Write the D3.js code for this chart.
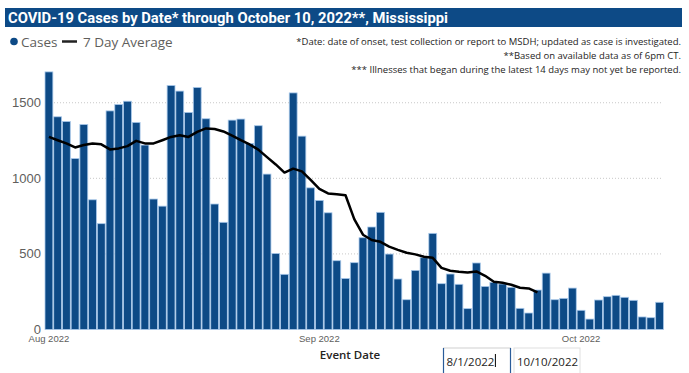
<!DOCTYPE html>
<html>
<head>
<meta charset="utf-8">
<script src="https://cdn.jsdelivr.net/npm/d3@7"></script>
<style>
  body { margin: 0; background: #fff; }
  svg { display: block; font-family: 'Open Sans', sans-serif; }
</style>
</head>
<body>
<script>
const WIDTH = 689;
const HEIGHT = 373;
const BAR_COLOR = '#0d4a86';
const BAR_EDGE = '#a8c8ea';

// Daily cases, Aug 1 .. Oct 10 2022.
const START_DATE = new Date(2022, 7, 1);
const cases = [
    1704, 1407, 1376, 1131, 1356, 858, 700,
    1446, 1488, 1510, 1370, 1220, 863, 816,
    1614, 1577, 1436, 1601, 1394, 830, 709,
    1385, 1392, 1231, 1348, 1028, 503, 365,
    1565, 1279, 937, 854, 772, 455, 338,
    442, 607, 678, 775, 499, 334, 197,
    391, 475, 636, 303, 367, 299, 138,
    440, 285, 312, 301, 279, 140, 109,
    261, 373, 197, 206, 274, 127, 69,
    195, 217, 226, 213, 193, 83, 78,
    180
];
// 7 day average, stops 14 days before the end.
const avg7 = [
    1274, 1252, 1231, 1204, 1220, 1231, 1225,
    1191, 1198, 1213, 1248, 1231, 1231, 1252,
    1274, 1285, 1274, 1307, 1330, 1326, 1310,
    1282, 1252, 1224, 1190, 1140, 1092, 1038,
    1064, 1046, 990, 930, 900, 894, 888,
    730, 627, 592, 580, 548, 527, 508,
    497, 481, 474, 408, 389, 382, 377,
    384, 355, 316, 309, 296, 276, 272,
    246
];
const yTicks = [0, 500, 1000, 1500];
const xTickDates = [new Date(2022, 7, 1), new Date(2022, 8, 1), new Date(2022, 9, 1)];
const notes = [
    '*Date: date of onset, test collection or report to MSDH; updated as case is investigated.',
    '**Based on available data as of 6pm CT.',
    '*** Illnesses that began during the latest 14 days may not yet be reported.'
];

const days = cases.map((c, i) => d3.timeDay.offset(START_DATE, i));

var svg = d3.select('body')
    .append('svg')
    .attr('width', WIDTH)
    .attr('height', HEIGHT);

// Title banner.
svg.append('rect')
    .attr('x', 5).attr('y', 8)
    .attr('width', 677).attr('height', 19)
    .attr('fill', BAR_COLOR);
svg.append('text')
    .attr('x', 8).attr('y', 23)
    .attr('fill', '#fff')
    .attr('textLength', 440)
    .attr('lengthAdjust', 'spacingAndGlyphs')
    .style('font-family', 'Roboto, sans-serif')
    .style('font-weight', 700)
    .style('font-size', '15.5px')
    .text('COVID-19 Cases by Date* through October 10, 2022**, Mississippi');

// Legend.
svg.append('circle').attr('cx', 14).attr('cy', 41.5).attr('r', 3.8).attr('fill', BAR_COLOR);
svg.append('text').attr('x', 21).attr('y', 46.5)
    .attr('fill', '#605e5c').style('font-size', '13.5px').text('Cases');
svg.append('line').attr('x1', 62).attr('x2', 77).attr('y1', 41.5).attr('y2', 41.5)
    .attr('stroke', '#222').attr('stroke-width', 2.5);
svg.append('text').attr('x', 83).attr('y', 46.5)
    .attr('fill', '#605e5c').style('font-size', '13.5px').text('7 Day Average');

// Notes, right aligned.
svg.selectAll('.note')
    .data(notes)
    .enter()
    .append('text')
    .attr('class', 'note')
    .attr('x', 681)
    .attr('y', (d, i) => 45 + i * 14)
    .attr('text-anchor', 'end')
    .attr('fill', '#252423')
    .style('font-size', '9.5px')
    .text(d => d);

// Scales.
var x = d3.scaleBand()
    .domain(days)
    .range([45, 663.5])
    .paddingInner(0.1)
    .paddingOuter(0);
var y = d3.scaleLinear()
    .domain([0, 1700])
    .range([329.5, 72.5]);

// Gridlines.
svg.append('g')
    .selectAll('line')
    .data(yTicks.filter(t => t > 0))
    .enter()
    .append('line')
    .attr('x1', 45).attr('x2', 663)
    .attr('y1', d => y(d)).attr('y2', d => y(d))
    .attr('stroke', '#c8c8c8')
    .attr('stroke-dasharray', '1,2');

// Y axis.
var yAxis = svg.append('g')
    .attr('transform', 'translate(41,0)')
    .call(d3.axisLeft(y).tickValues(yTicks).tickFormat(d3.format('d')).tickSize(0).tickPadding(0));
yAxis.select('.domain').remove();
yAxis.selectAll('text')
    .attr('fill', '#605e5c')
    .style('font-size', '13px')
    .attr('dy', '0.3em');

// Bars.
svg.append('g')
    .selectAll('rect')
    .data(cases)
    .enter()
    .append('rect')
    .attr('x', (d, i) => x(days[i]))
    .attr('y', d => y(d))
    .attr('width', x.bandwidth())
    .attr('height', d => y(0) - y(d))
    .attr('fill', BAR_COLOR)
    .attr('stroke', BAR_EDGE)
    .attr('stroke-width', 0.8);

// 7 day average line.
var line = d3.line()
    .x((d, i) => x(days[i]) + x.bandwidth() / 2)
    .y(d => y(d));
svg.append('path')
    .datum(avg7)
    .attr('d', line)
    .attr('fill', 'none')
    .attr('stroke', '#000')
    .attr('stroke-width', 2.5)
    .attr('stroke-linejoin', 'round');

// X axis.
var xAxis = svg.append('g')
    .attr('transform', 'translate(0,' + 335 + ')')
    .call(d3.axisBottom(x)
        .tickValues(xTickDates)
        .tickFormat(d3.timeFormat('%b %Y'))
        .tickSize(0)
        .tickPadding(0));
xAxis.select('.domain').remove();
xAxis.selectAll('text')
    .attr('fill', '#605e5c')
    .style('font-size', '9.5px');

svg.append('text')
    .attr('x', 350).attr('y', 358.5)
    .attr('text-anchor', 'middle')
    .attr('fill', '#252423')
    .style('font-size', '11.5px')
    .style('font-weight', 600)
    .text('Event Date');

// Date range boxes.
var boxes = [
    {x: 443.5, w: 67, label: '8/1/2022', stroke: '#d0d0d0'},
    {x: 514, w: 66, label: '10/10/2022', stroke: '#e0e0e0'}
];
svg.selectAll('.datebox')
    .data(boxes)
    .enter()
    .append('rect')
    .attr('class', 'datebox')
    .attr('x', d => d.x).attr('y', 348)
    .attr('width', d => d.w).attr('height', 30)
    .attr('fill', '#fff')
    .attr('stroke', d => d.stroke);
// Active box has blue side edges.
[443.5, 510.5].forEach(function(xp) {
    svg.append('line')
        .attr('x1', xp).attr('x2', xp).attr('y1', 348).attr('y2', 373)
        .attr('stroke', '#2a5c9a').attr('stroke-width', 1.2);
});
var dateLabels = svg.selectAll('.datelabel')
    .data(boxes)
    .enter()
    .append('text')
    .attr('class', 'datelabel')
    .attr('x', d => d.x + 3)
    .attr('y', 365.5)
    .attr('fill', '#252423')
    .style('font-size', '11.5px')
    .text(d => d.label);
// Text cursor right after the first date.
var cursorX = boxes[0].x + 3 + dateLabels.nodes()[0].getComputedTextLength() + 1;
svg.append('line')
    .attr('x1', cursorX).attr('x2', cursorX).attr('y1', 354).attr('y2', 367)
    .attr('stroke', '#000').attr('stroke-width', 1);
</script>
</body>
</html>
